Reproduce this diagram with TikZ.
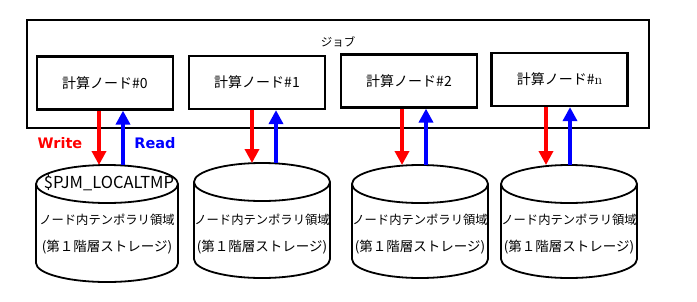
\documentclass[tikz,border=0pt]{standalone}
\usepackage{fontspec}
\newfontfamily\jp{Noto Sans CJK JP}
\newfontfamily\lab{DejaVu Sans}
\usetikzlibrary{arrows.meta}

\begin{document}
\begin{tikzpicture}[
    x=1pt, y=-1pt,
    cnode/.style={draw,line width=2.2pt,minimum width=136pt,minimum height=53pt,
                  inner sep=0pt,font=\jp\fontsize{14}{16}\selectfont},
    stor/.style={draw,line width=1.8pt},
    stxt/.style={font=\jp\fontsize{12.3}{14}\selectfont,inner sep=0pt},
    wr/.style={-{Triangle[length=14pt,width=14pt]},line width=4.5pt,red},
    rd/.style={-{Triangle[length=14pt,width=14pt]},line width=4.5pt,blue},
  ]
  \useasboundingbox (0,0) rectangle (697,301);

  % --- job frame ---
  \node[draw,line width=2.2pt,minimum width=622pt,minimum height=108pt] (job) at (338,74) {};
  \node[font=\jp\fontsize{11.5}{13}\selectfont] (joblbl) at (338,42) {ジョブ};

  % --- compute nodes ---
  \node[cnode] (n0) at (105,83)   {計算ノード\#0};
  \node[cnode] (n1) at (257,82.5) {計算ノード\#1};
  \node[cnode] (n2) at (409,81)   {計算ノード\#2};
  \node[cnode] (n3) at (559.5,79.5) {計算ノード\#{\rmfamily n}};

  % --- node-local storage (cylinders) ---
  \foreach \i/\xc/\yt/\rr/\yb in {0/107/165/71/282,1/262/163/68/278,2/420/165/68/278,3/569/165/68/278} {
    \coordinate (c\i) at (\xc,\yt);
    \draw[stor] (\xc,\yt+19) ellipse [x radius=\rr pt,y radius=19pt];
    \draw[stor] (\xc-\rr,\yt+19) -- (\xc-\rr,\yb-19)
      arc[start angle=180,end angle=360,x radius=\rr pt,y radius=19pt] -- (\xc+\rr,\yt+19);
    \node[stxt] (t\i a) at (\xc,220) {ノード内テンポラリ領域};
    \node[stxt,font=\jp\fontsize{13.5}{15}\selectfont] (t\i b) at (\xc,247) {(第１階層ストレージ)};
  }
  \node[stxt,font=\jp\fontsize{16.5}{18}\selectfont] (env) at (109,183) {\$PJM\_LOCALTMP};

  % --- write / read arrows ---
  \foreach \i/\xr/\xb in {0/99/123,1/252/276,2/402/426,3/546/570} {
    \draw[wr] (n\i.south -| \xr,0) -- (c\i -| \xr,0);
    \draw[rd] (c\i -| \xb,0) -- (n\i.south -| \xb,0);
  }

  \node[font=\lab\bfseries\fontsize{14.5}{16}\selectfont,text=red]  (wlbl) at (60,143)  {Write};
  \node[font=\lab\bfseries\fontsize{14.5}{16}\selectfont,text=blue] (rlbl) at (155,143) {Read};

\end{tikzpicture}
\end{document}
